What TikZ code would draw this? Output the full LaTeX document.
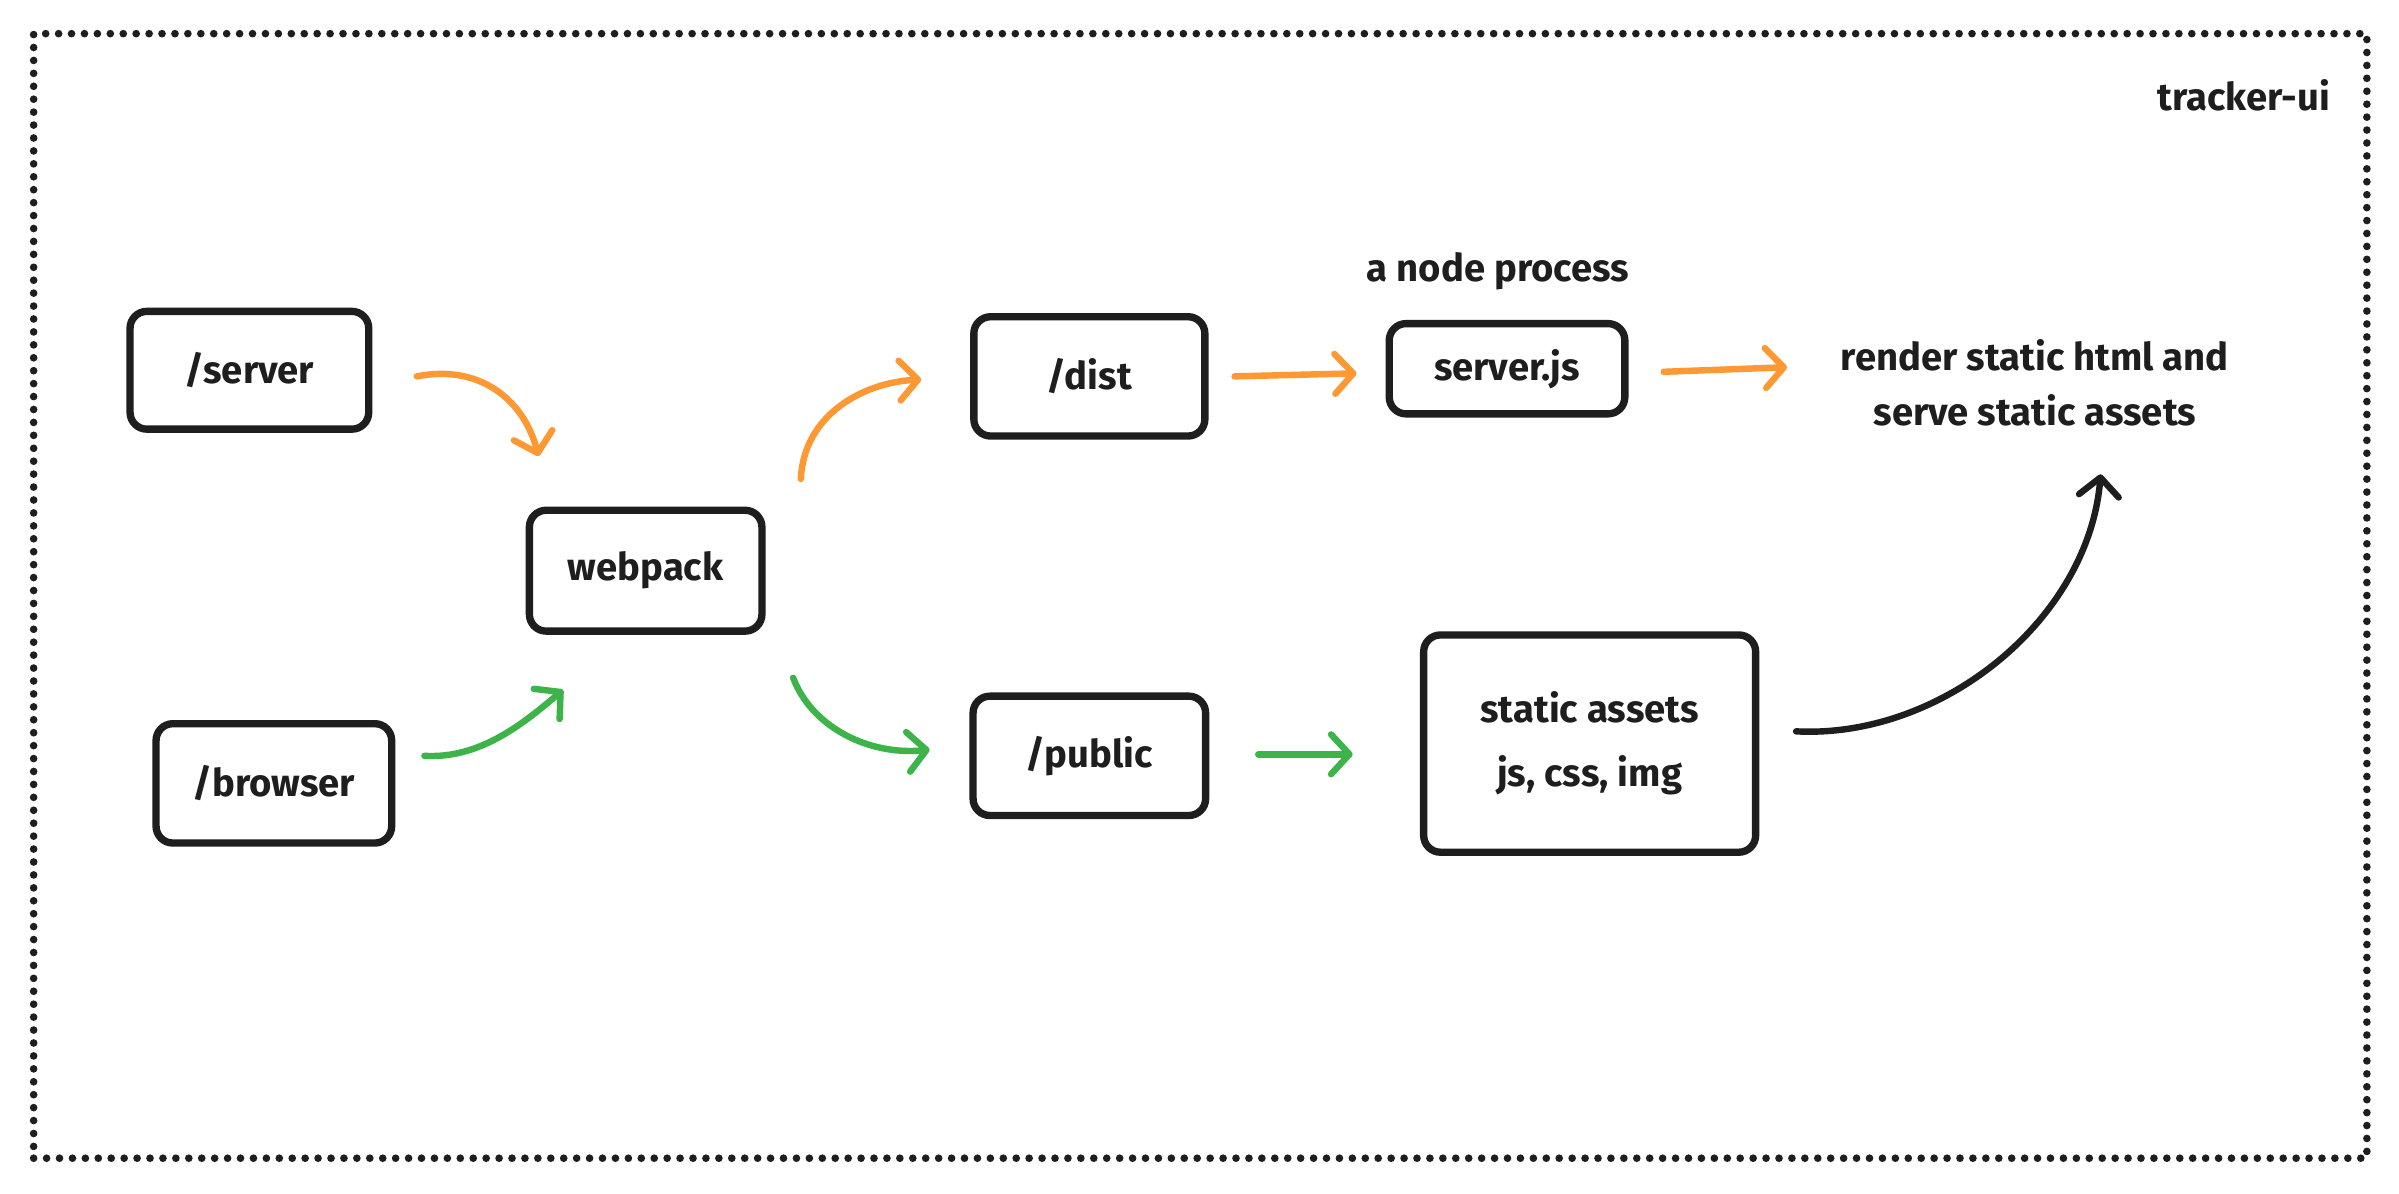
\documentclass[tikz,border=0pt]{standalone}
\usepackage{fontspec}
\setmainfont{Fira Sans}
\usetikzlibrary{arrows.meta,calc}
\definecolor{ink}{HTML}{1E1E1E}
\definecolor{orng}{HTML}{FD9833}
\definecolor{grn}{HTML}{3CB449}
\tikzset{
  box/.style={draw=ink, line width=4.8pt, rounded corners=11pt, inner sep=0pt,
    font=\fontsize{25}{42}\selectfont\bfseries, text=ink, align=center},
  lbl/.style={inner sep=0pt, font=\fontsize{25}{36}\selectfont\bfseries, text=ink, align=center},
  tip/.style={-{Straight Barb[length=12pt,width=26pt,line cap=round,line join=round]}},
  conn/.style={tip, line width=4.2pt, line cap=round},
  oarr/.style={conn, draw=orng},
  garr/.style={conn, draw=grn},
  karr/.style={conn, draw=ink},
}
\begin{document}
\begin{tikzpicture}[x=1pt,y=-1pt]
\useasboundingbox (0,0) rectangle (1568,780);
\fill[white] (0,0) rectangle (1568,780);
% border
\node[draw=ink, line width=5pt, line cap=round, dash pattern=on 0pt off 8.45pt,
  minimum width=1525pt, minimum height=735pt, inner sep=0pt] (frame) at (784.5,389.5) {};
\node[lbl, anchor=east] (tracker) at (1523,62) {tracker-ui};
% boxes
\node[box, minimum width=156pt, minimum height=77pt] (srv) at (163,242) {/server};
\node[box, minimum width=154pt, minimum height=78pt] (brw) at (179,512) {/browser};
\node[box, minimum width=152pt, minimum height=79pt] (wp) at (422,373) {webpack};
\node[box, minimum width=151pt, minimum height=78pt] (dist) at (712,246) {/dist};
\node[box, minimum width=154pt, minimum height=59pt] (sjs) at (985,241) {server.js};
\node[box, minimum width=152pt, minimum height=78pt] (pub) at (712,494) {/public};
\node[box, minimum width=217pt, minimum height=142pt] (sta) at (1039,486) {static assets\\js, css, img};
\node[lbl] (nproc) at (979,177) {a node process};
\node[lbl] (render) at (1330,250) {render static html and\\serve static assets};
% connectors
\draw[oarr] ([shift={(29,4)}]srv.east) .. controls +(40,-8) and +(-10,-38) .. ([shift={(-70,-33)}]wp.north);
\draw[garr] ([shift={(19,-18)}]brw.east) .. controls +(35,2) and +(-28,24) .. ([shift={(-54,36)}]wp.south);
\draw[oarr] ([shift={(23,-60)}]wp.east) .. controls +(2,-42) and +(-38,2) .. ([shift={(-32,2)}]dist.west);
\draw[garr] ([shift={(18,70)}]wp.east) .. controls +(12,32) and +(-40,4) .. ([shift={(-26,-4)}]pub.west);
\draw[oarr] ([shift={(17,0)}]dist.east) -- ([shift={(-19,3)}]sjs.west);
\draw[oarr] ([shift={(23,2)}]sjs.east) -- ([shift={(-162,-10)}]render.center);
\draw[garr] ([shift={(32,-1)}]pub.east) -- ([shift={(-44,7)}]sta.west);
\draw[karr] ([shift={(24,-8)}]sta.east) .. controls +(95,5) and +(-8,95) .. ([shift={(43,60)}]render.center);
\end{tikzpicture}
\end{document}
